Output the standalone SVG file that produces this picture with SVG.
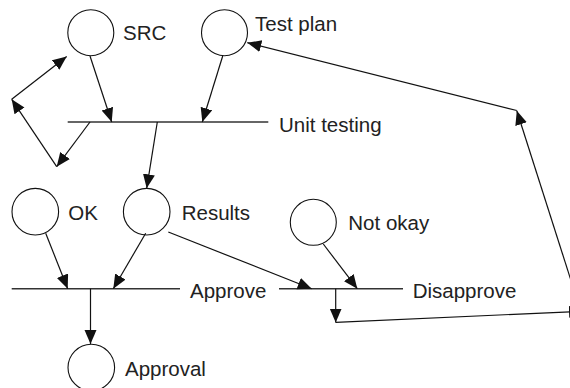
<svg xmlns="http://www.w3.org/2000/svg" width="570" height="388" viewBox="0 0 570 388">
<defs>
<style>
.node circle{fill:#fff;stroke:#111;stroke-width:1.1}
text{font-family:"Liberation Sans",Arial,sans-serif;font-size:20.5px;fill:#222}
.bar{stroke:#333;stroke-width:1.5;fill:none}
.c{stroke:#111;stroke-width:1.2;fill:none}
.a{marker-end:url(#ah)}
</style>
<marker id="ah" markerUnits="userSpaceOnUse" markerWidth="15" markerHeight="13" refX="14" refY="6" orient="auto">
<path d="M0,0 L14,6 L0,12 z" fill="#111"/>
</marker>
</defs>
<rect width="570" height="388" fill="#fff"/>

<g id="src" class="node"><circle cx="90.8" cy="32.7" r="23"/><text x="123" y="39.5">SRC</text></g>
<g id="testplan" class="node"><circle cx="224.5" cy="32.7" r="23"/><text x="255" y="31">Test plan</text></g>
<g id="unittesting"><line class="bar" x1="67.7" y1="122" x2="268.3" y2="122"/><text x="279" y="131.5">Unit testing</text></g>
<g id="ok" class="node"><circle cx="35.3" cy="211.7" r="23.3"/><text x="68.3" y="220">OK</text></g>
<g id="results" class="node"><circle cx="146.7" cy="211.7" r="23.3"/><text x="181.7" y="220">Results</text></g>
<g id="notokay" class="node"><circle cx="313.3" cy="222.3" r="23"/><text x="348.3" y="230">Not okay</text></g>
<g id="approve"><line class="bar" x1="11.7" y1="288.7" x2="180" y2="288.7"/><text x="190" y="297.7">Approve</text></g>
<g id="disapprove"><line class="bar" x1="279" y1="288.7" x2="403" y2="288.7"/><text x="412.7" y="297.5">Disapprove</text></g>
<g id="approval" class="node"><circle cx="91.3" cy="367.5" r="23.3"/><text x="125" y="375.7">Approval</text></g>

<g id="connectors">
<path class="c a" d="M90,56 L111.7,122"/>
<path class="c a" d="M222.7,56 L202.3,122"/>
<path class="c a" d="M157.3,122 L146.7,188.3"/>
<path class="c a" d="M90,122 L56.7,166.7"/>
<path class="c a" d="M56.7,166.7 L11.7,99.3"/>
<path class="c a" d="M11.7,99.3 L66.7,56.5"/>
<path class="c a" d="M45.7,233.3 L67.7,288.7"/>
<path class="c a" d="M145.7,233.3 L113.3,288.7"/>
<path class="c a" d="M168.3,232 L311.7,288.7"/>
<path class="c a" d="M323.3,244 L357.3,288.7"/>
<path class="c a" d="M90.5,288.7 L90.5,344"/>
<path class="c a" d="M335.7,288.7 L335.7,322.5"/>
<path class="c a" d="M335.7,322.3 L583,311.2"/>
<path class="c a" d="M575,293 L516.8,110.8"/>
<path class="c a" d="M516.8,110.5 L247.3,42.7"/>
</g>
</svg>
